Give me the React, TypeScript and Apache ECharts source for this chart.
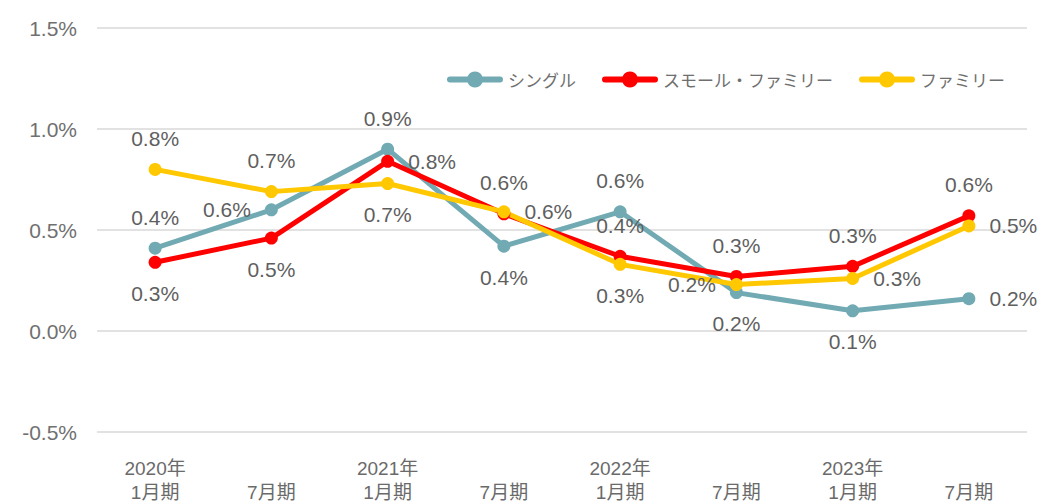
import React, { useEffect, useRef } from "react";
import * as echarts from "echarts";

const categories = [
  "2020年\n1月期",
  "\n7月期",
  "2021年\n1月期",
  "\n7月期",
  "2022年\n1月期",
  "\n7月期",
  "2023年\n1月期",
  "\n7月期",
];

const singleValues = [0.41, 0.6, 0.9, 0.42, 0.59, 0.19, 0.1, 0.16];
const smallFamilyValues = [0.34, 0.46, 0.84, 0.58, 0.37, 0.27, 0.32, 0.57];
const familyValues = [0.8, 0.69, 0.73, 0.59, 0.33, 0.23, 0.26, 0.52];

const seriesNames = ["シングル", "スモール・ファミリー", "ファミリー"];
const yTicks = { min: -0.5, max: 1.5, interval: 0.5 };

// label placement (style, not data)
const singleLabelPos = ["top", "left", "top", "bottom", "top", "bottom", "bottom", "right"];
const smallLabelPos = ["bottom", "bottom", "right", "top", "top", "top", "top", "top"];
const familyLabelPos = ["top", "top", "bottom", "right", "bottom", "left", "right", "right"];

const NUM_FONT = "'Liberation Sans', Arial, 'Noto Sans CJK JP', sans-serif";
const JP_FONT = "'Noto Sans CJK JP', sans-serif";

const LEGEND_ICON =
  "path://M3,5 L53,5 A3,3 0 0 1 53,11 L3,11 A3,3 0 0 1 3,5 Z M28,0 A8,8 0 1 1 27.99,0 Z";

function makeSeries(name: string, values: number[], pos: string[], color: string) {
  return {
    name,
    type: "line",
    data: values.map((v, i) => ({ value: v, label: { position: pos[i] } })),
    symbol: "circle",
    symbolSize: 13,
    lineStyle: { width: 5, color },
    itemStyle: { color },
    label: {
      show: true,
      distance: 14,
      color: "#5f5f5f",
      fontSize: 21,
      fontFamily: NUM_FONT,
      formatter: (p: any) => Number(p.value).toFixed(1) + "%",
    },
    emphasis: { disabled: true },
  };
}

export default function App() {
  const ref = useRef<HTMLDivElement>(null);
  useEffect(() => {
    document.body.style.margin = "0";
    if (!ref.current) return;
    const chart = echarts.init(ref.current, null, { renderer: "svg" });
    chart.setOption({
      animation: false,
      backgroundColor: "#ffffff",
      grid: { left: 97, right: 19, top: 28, bottom: 72 },
      legend: {
        data: seriesNames.map((n) => ({ name: n, icon: LEGEND_ICON })),
        top: 66,
        right: 36,
        itemWidth: 56,
        itemHeight: 16,
        itemGap: 26,
        textStyle: { fontSize: 17, color: "#6f6f6f", fontFamily: JP_FONT },
      },
      xAxis: {
        type: "category",
        data: categories,
        boundaryGap: true,
        axisLine: { show: false },
        axisTick: { show: false },
        axisLabel: {
          color: "#6a6a6a",
          fontSize: 19,
          fontFamily: NUM_FONT,
          lineHeight: 24,
          margin: 24,
        },
      },
      yAxis: {
        type: "value",
        min: yTicks.min,
        max: yTicks.max,
        interval: yTicks.interval,
        axisLine: { show: false },
        axisTick: { show: false },
        splitLine: { lineStyle: { color: "#d9d9d9", width: 1.5 } },
        axisLabel: {
          color: "#707070",
          fontSize: 21,
          fontFamily: NUM_FONT,
          margin: 20,
          formatter: (v: number) => v.toFixed(1) + "%",
        },
      },
      series: [
        makeSeries(seriesNames[0], singleValues, singleLabelPos, "#72aab4"),
        makeSeries(seriesNames[1], smallFamilyValues, smallLabelPos, "#ff0000"),
        makeSeries(seriesNames[2], familyValues, familyLabelPos, "#ffc800"),
      ],
    });
    return () => chart.dispose();
  }, []);
  return <div ref={ref} style={{ width: 1046, height: 504 }} />;
}
